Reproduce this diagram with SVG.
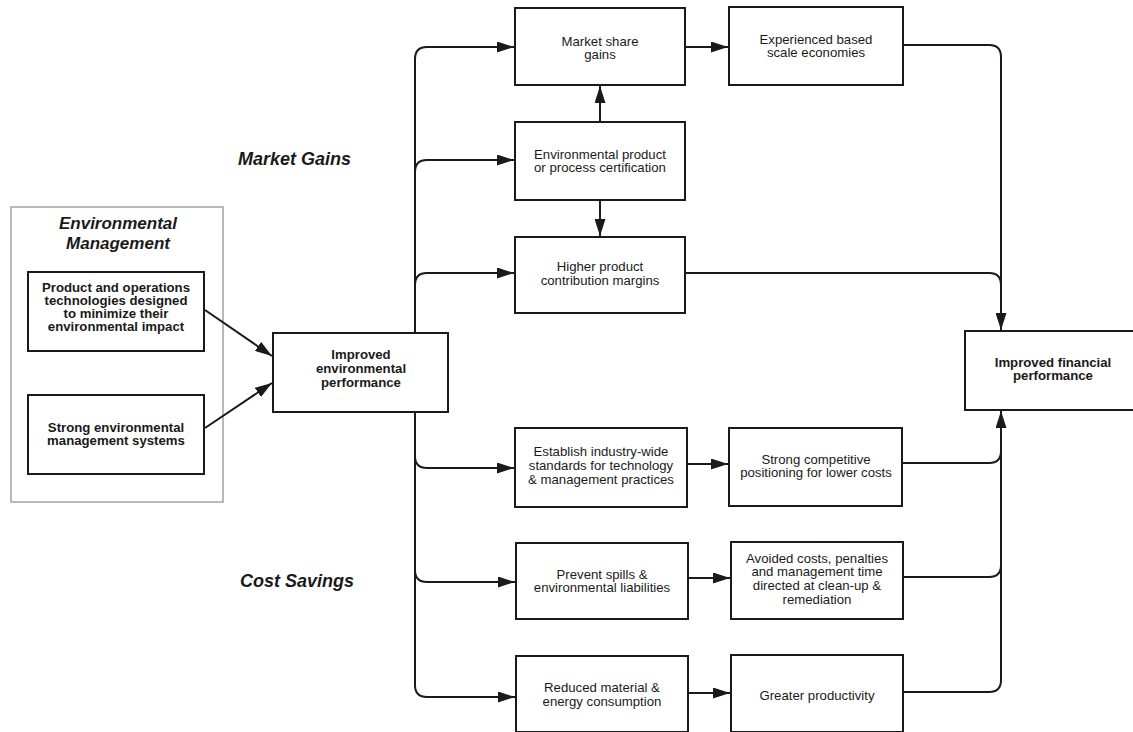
<svg xmlns="http://www.w3.org/2000/svg" width="1133" height="732" viewBox="0 0 1133 732">
<style>
.box{fill:#fff;stroke:#1a1a1a;stroke-width:2}
.outer{fill:#fff;stroke:#a8a8a8;stroke-width:1.6}
.t{font-family:"Liberation Sans",Arial,sans-serif;font-size:13.2px;fill:#1a1a1a;text-anchor:middle}
.b{font-family:"Liberation Sans",Arial,sans-serif;font-size:13.2px;font-weight:bold;fill:#1a1a1a;text-anchor:middle}
.h{font-family:"Liberation Sans",Arial,sans-serif;font-size:18px;font-weight:bold;font-style:italic;fill:#1a1a1a}
.ht{font-family:"Liberation Sans",Arial,sans-serif;font-size:17px;font-weight:bold;font-style:italic;fill:#1a1a1a;text-anchor:middle}
.c{fill:none;stroke:#1a1a1a;stroke-width:2}
</style>
<defs>
<marker id="ah" markerUnits="userSpaceOnUse" markerWidth="17" markerHeight="11" refX="17" refY="5.5" orient="auto"><path d="M0,0 L17,5.5 L0,11 z" fill="#1a1a1a"/></marker>
</defs>
<rect width="1133" height="732" fill="#fff"/>

<g id="env-mgmt-group">
<rect class="outer" x="11" y="207" width="212" height="295"/>
<text class="ht" x="118" y="229">Environmental</text>
<text class="ht" x="118" y="249">Management</text>
</g>

<g id="labels">
<text class="h" x="238" y="165">Market Gains</text>
<text class="h" x="240" y="587">Cost Savings</text>
</g>

<g id="connectors">
<path class="c" d="M205,310 L272,356" marker-end="url(#ah)"/>
<path class="c" d="M205,428 L272,383" marker-end="url(#ah)"/>
<path class="c" d="M415,333 L415,59 Q415,47 427,47 L514,47" marker-end="url(#ah)"/>
<path class="c" d="M415,172 Q415,160 427,160 L514,160" marker-end="url(#ah)"/>
<path class="c" d="M415,285 Q415,273 427,273 L514,273" marker-end="url(#ah)"/>
<path class="c" d="M415,412 L415,685 Q415,697 427,697 L515,697" marker-end="url(#ah)"/>
<path class="c" d="M415,456 Q415,468 427,468 L514,468" marker-end="url(#ah)"/>
<path class="c" d="M415,570 Q415,582 427,582 L515,582" marker-end="url(#ah)"/>
<path class="c" d="M600,122 L600,86" marker-end="url(#ah)"/>
<path class="c" d="M600,200 L600,236" marker-end="url(#ah)"/>
<path class="c" d="M685,47 L728,47" marker-end="url(#ah)"/>
<path class="c" d="M687,464 L728,464" marker-end="url(#ah)"/>
<path class="c" d="M688,578 L730,578" marker-end="url(#ah)"/>
<path class="c" d="M688,693 L730,693" marker-end="url(#ah)"/>
<path class="c" d="M903,45 L989,45 Q1001,45 1001,57 L1001,330" marker-end="url(#ah)"/>
<path class="c" d="M685,273 L989,273 Q1001,273 1001,285"/>
<path class="c" d="M902,463 L989,463 Q1001,463 1001,451"/>
<path class="c" d="M903,577 L989,577 Q1001,577 1001,565"/>
<path class="c" d="M903,692 L989,692 Q1001,692 1001,680 L1001,411" marker-end="url(#ah)"/>
</g>

<g id="product-tech">
<rect class="box" x="28" y="272" width="176" height="79"/>
<text class="b" x="116" y="292">Product and operations</text>
<text class="b" x="116" y="305">technologies designed</text>
<text class="b" x="116" y="318">to minimize their</text>
<text class="b" x="116" y="331">environmental impact</text>
</g>

<g id="strong-ems">
<rect class="box" x="28" y="395" width="176" height="79"/>
<text class="b" x="116" y="432">Strong environmental</text>
<text class="b" x="116" y="445">management systems</text>
</g>

<g id="improved-env">
<rect class="box" x="273" y="333" width="175" height="79"/>
<text class="b" x="361" y="359">Improved</text>
<text class="b" x="361" y="373">environmental</text>
<text class="b" x="361" y="387">performance</text>
</g>

<g id="market-share">
<rect class="box" x="515" y="8" width="170" height="77"/>
<text class="t" x="600" y="46">Market share</text>
<text class="t" x="600" y="59">gains</text>
</g>

<g id="experienced">
<rect class="box" x="729" y="7" width="174" height="78"/>
<text class="t" x="816" y="44">Experienced based</text>
<text class="t" x="816" y="57">scale economies</text>
</g>

<g id="certification">
<rect class="box" x="515" y="122" width="170" height="78"/>
<text class="t" x="600" y="159">Environmental product</text>
<text class="t" x="600" y="172">or process certification</text>
</g>

<g id="higher-margins">
<rect class="box" x="515" y="237" width="170" height="76"/>
<text class="t" x="600" y="271">Higher product</text>
<text class="t" x="600" y="285">contribution margins</text>
</g>

<g id="improved-fin">
<rect class="box" x="965" y="331" width="180" height="79"/>
<text class="b" x="1053" y="367">Improved financial</text>
<text class="b" x="1053" y="380">performance</text>
</g>

<g id="establish">
<rect class="box" x="515" y="428" width="172" height="79"/>
<text class="t" x="601" y="456">Establish industry-wide</text>
<text class="t" x="601" y="470">standards for technology</text>
<text class="t" x="601" y="484">&amp; management practices</text>
</g>

<g id="competitive">
<rect class="box" x="729" y="428" width="173" height="78"/>
<text class="t" x="816" y="464">Strong competitive</text>
<text class="t" x="816" y="477">positioning for lower costs</text>
</g>

<g id="prevent">
<rect class="box" x="516" y="543" width="172" height="76"/>
<text class="t" x="602" y="579">Prevent spills &amp;</text>
<text class="t" x="602" y="592">environmental liabilities</text>
</g>

<g id="avoided">
<rect class="box" x="731" y="542" width="172" height="77"/>
<text class="t" x="817" y="563">Avoided costs, penalties</text>
<text class="t" x="817" y="576">and management time</text>
<text class="t" x="817" y="590">directed at clean-up &amp;</text>
<text class="t" x="817" y="604">remediation</text>
</g>

<g id="reduced">
<rect class="box" x="516" y="656" width="172" height="76"/>
<text class="t" x="602" y="692">Reduced material &amp;</text>
<text class="t" x="602" y="706">energy consumption</text>
</g>

<g id="productivity">
<rect class="box" x="731" y="655" width="172" height="77"/>
<text class="t" x="817" y="700">Greater productivity</text>
</g>
</svg>
